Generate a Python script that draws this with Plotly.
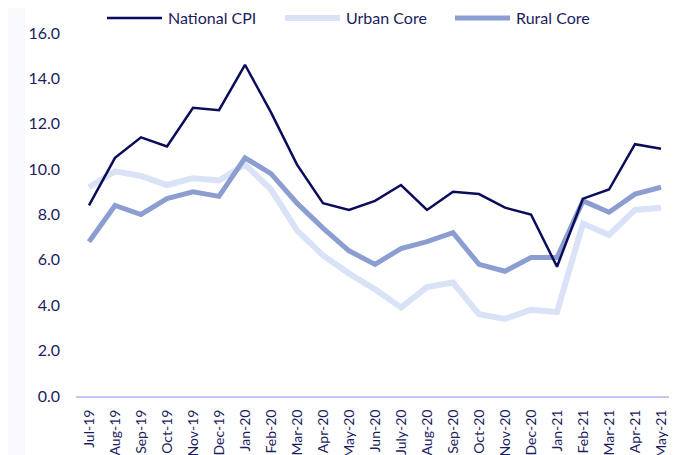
import plotly.graph_objects as go

months = ["Jul-19", "Aug-19", "Sep-19", "Oct-19", "Nov-19", "Dec-19", "Jan-20", "Feb-20",
          "Mar-20", "Apr-20", "May-20", "Jun-20", "July-20", "Aug-20", "Sep-20", "Oct-20",
          "Nov-20", "Dec-20", "Jan-21", "Feb-21", "Mar-21", "Apr-21", "May-21"]

national_cpi = [8.4, 10.5, 11.4, 11.0, 12.7, 12.6, 14.6, 12.5, 10.2, 8.5, 8.2, 8.6,
                9.3, 8.2, 9.0, 8.9, 8.3, 8.0, 5.7, 8.7, 9.1, 11.1, 10.9]
urban_core = [9.2, 9.9, 9.7, 9.3, 9.6, 9.5, 10.2, 9.1, 7.3, 6.2, 5.4, 4.7,
              3.9, 4.8, 5.0, 3.6, 3.4, 3.8, 3.7, 7.6, 7.1, 8.2, 8.3]
rural_core = [6.8, 8.4, 8.0, 8.7, 9.0, 8.8, 10.5, 9.8, 8.5, 7.4, 6.4, 5.8,
              6.5, 6.8, 7.2, 5.8, 5.5, 6.1, 6.1, 8.6, 8.1, 8.9, 9.2]

y_ticks = [0, 2, 4, 6, 8, 10, 12, 14, 16]

series_names = ["National CPI", "Urban Core", "Rural Core"]
series_colors = ["#0b0b5c", "#d9e2f6", "#8c9ed1"]
series_widths = [2.5, 6, 5]

navy = "#1c1c5e"

# plot-area geometry (px) used to place the hand-drawn legend in paper coords
L, T, PW, PH = 68, 25, 598, 363
W, H = 677, 455


def px_x(fx):
    return (fx - L) / PW


def px_y(fy):
    return (T + PH - fy) / PH


fig = go.Figure()
for idx in (1, 2, 0):
    vals = [national_cpi, urban_core, rural_core][idx]
    fig.add_trace(go.Scatter(x=months, y=vals, mode="lines", name=series_names[idx],
                             line=dict(color=series_colors[idx], width=series_widths[idx]),
                             showlegend=False))

shapes = [dict(type="rect", xref="paper", yref="paper", x0=px_x(0), x1=px_x(17),
               y0=px_y(H), y1=px_y(0), fillcolor="#f8f9fd", line=dict(width=0),
               layer="below")]
annotations = []
legend_starts = [99, 277, 447]
for name, col, wdt, sx in zip(series_names, series_colors, series_widths, legend_starts):
    shapes.append(dict(type="line", xref="paper", yref="paper", x0=px_x(sx), x1=px_x(sx + 55),
                       y0=px_y(10), y1=px_y(10), line=dict(color=col, width=wdt)))
    annotations.append(dict(text=name, xref="paper", yref="paper", x=px_x(sx + 59),
                            y=px_y(10), xanchor="left", yanchor="middle", showarrow=False,
                            font=dict(size=16, color=navy)))

fig.update_layout(
    width=W, height=H,
    margin=dict(l=L, r=W - L - PW, t=T, b=H - T - PH, autoexpand=False),
    paper_bgcolor="white", plot_bgcolor="white",
    font=dict(family="Lato, sans-serif", size=16, color=navy),
    showlegend=False,
    xaxis=dict(type="category", range=[-0.5, 22.5], tickangle=-90, showgrid=False,
               showline=True, linecolor="#c5c8f0", linewidth=2, ticks="",
               tickfont=dict(size=14, color=navy), ticklabelstandoff=6, zeroline=False,
               automargin=False),
    yaxis=dict(range=[0, 16], tickvals=y_ticks, ticktext=[f"{v:.1f}" for v in y_ticks],
               showgrid=False, showline=False, zeroline=False, ticks="",
               tickfont=dict(size=16, color=navy), ticklabelstandoff=15, automargin=False),
    shapes=shapes,
    annotations=annotations,
)

fig.write_html("out.html")
